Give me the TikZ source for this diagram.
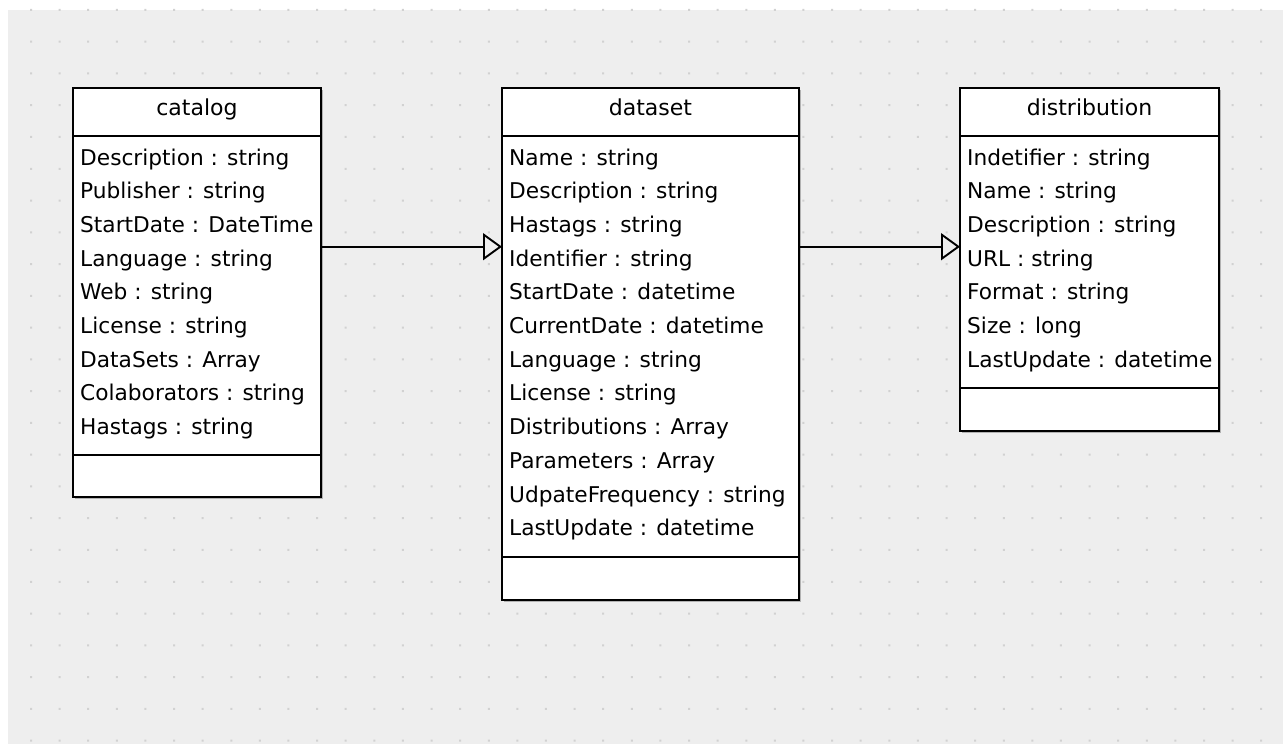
\documentclass[tikz,border=0pt]{standalone}
\usepackage{fontspec}
\setmainfont{DejaVu Sans}
\usetikzlibrary{arrows.meta,positioning,shadows}

\newlength{\du}
\setlength{\du}{1pt}

\tikzset{
  classname/.style={draw=umlline, fill=white, line width=1.7\du, outer sep=0pt, inner sep=0pt,
    minimum height=48\du, text height=16\du, text depth=10\du, font=\fontsize{22}{26}\selectfont,
    drop shadow={shadow xshift=1.5\du, shadow yshift=-1.5\du, fill=black, opacity=0.25}},
  classpart/.style={classname},
  attrib/.style={anchor=base west, inner sep=0pt, font=\fontsize{21.7}{26}\selectfont},
  gen/.style={draw=umlline, line width=1.9\du, -{Triangle[open, length=19pt, width=27pt]}},
}

\begin{document}
\begin{tikzpicture}[x=\du, y=-\du]
\definecolor{umlline}{rgb}{0.000000, 0.000000, 0.000000}
\definecolor{canvasgrey}{rgb}{0.933000, 0.933000, 0.933000}
\definecolor{gridgrey}{rgb}{0.820000, 0.820000, 0.820000}
\useasboundingbox (0,0) rectangle (1283,744);
\fill[white] (0,0) rectangle (1283,744);
\fill[canvasgrey] (8,10) rectangle (1283,744);
\fill[gridgrey] \foreach \c in {0,...,43} {\foreach \r in {0,...,23} {({30+28.61*\c},{8.9+31.77*\r}) rectangle ++(2,2)}};

\node[classname, minimum width=248\du, anchor=north west] (catalog) at (73,88) {catalog};
\node[classpart, below=0pt of catalog, minimum width=248\du, minimum height=319\du] (catalog-attrs) {};
\node[classpart, below=0pt of catalog-attrs, minimum width=248\du, minimum height=42\du] (catalog-ops) {};
\foreach \a [count=\i from 0] in {Description : string, Publisher : string, StartDate : DateTime, Language : string, Web : string, License : string, DataSets : Array, Colaborators : string, Hastags : string}
  \node[attrib] (catalog-a\i) at (80,{165+33.7*\i}) {\a};

\node[classname, minimum width=297\du, anchor=north west] (dataset) at (502,88) {dataset};
\node[classpart, below=0pt of dataset, minimum width=297\du, minimum height=421\du] (dataset-attrs) {};
\node[classpart, below=0pt of dataset-attrs, minimum width=297\du, minimum height=43\du] (dataset-ops) {};
\foreach \a [count=\i from 0] in {Name : string, Description : string, Hastags : string, Identifier : string, StartDate : datetime, CurrentDate : datetime, Language : string, License : string, Distributions : Array, Parameters : Array, UdpateFrequency : string, LastUpdate : datetime}
  \node[attrib] (dataset-a\i) at (509,{165+33.7*\i}) {\a};

\node[classname, minimum width=259\du, anchor=north west] (distribution) at (960,88) {distribution};
\node[classpart, below=0pt of distribution, minimum width=259\du, minimum height=252\du] (distribution-attrs) {};
\node[classpart, below=0pt of distribution-attrs, minimum width=259\du, minimum height=43\du] (distribution-ops) {};
\foreach \a [count=\i from 0] in {Indetifier : string, Name : string, Description : string, URL : string, Format : string, Size : long, LastUpdate : datetime}
  \node[attrib] (distribution-a\i) at (967,{165+33.7*\i}) {\a};

\coordinate (link) at (0,246.7);
\draw[gen] (catalog-attrs.east |- link) -- (dataset-attrs.west |- link);
\draw[gen] (dataset-attrs.east |- link) -- (distribution-attrs.west |- link);
\end{tikzpicture}
\end{document}
